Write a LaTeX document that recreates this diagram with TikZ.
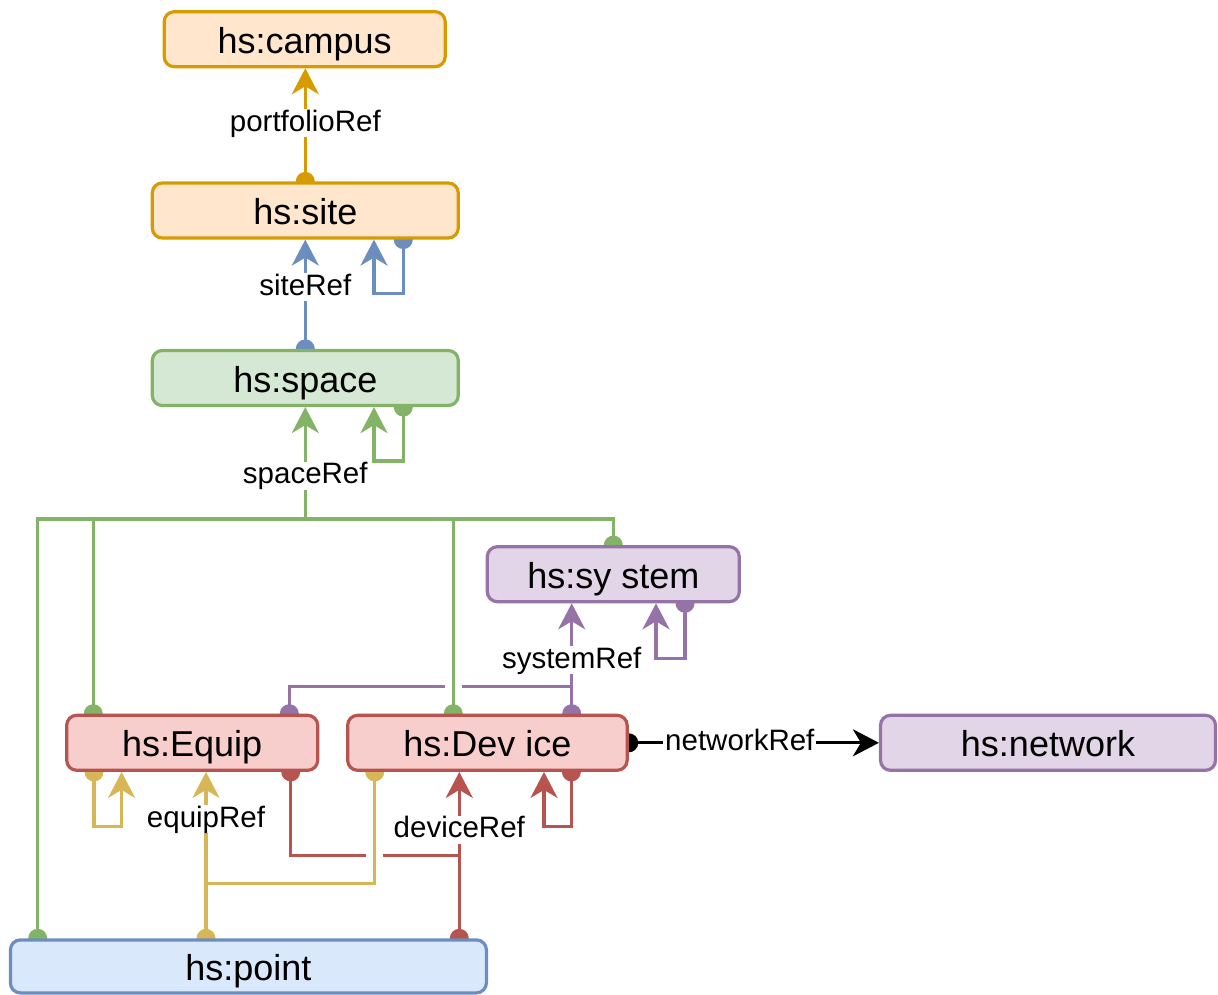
\documentclass[tikz,border=0pt]{standalone}
\usepackage{fontspec}
\setmainfont{Liberation Sans}
\usetikzlibrary{arrows.meta}

\definecolor{orangeS}{HTML}{D79B00}
\definecolor{orangeF}{HTML}{FFE6CC}
\definecolor{blueS}{HTML}{6C8EBF}
\definecolor{blueF}{HTML}{DAE8FC}
\definecolor{greenS}{HTML}{82B366}
\definecolor{greenF}{HTML}{D5E8D4}
\definecolor{purpleS}{HTML}{9673A6}
\definecolor{purpleF}{HTML}{E1D5E7}
\definecolor{redS}{HTML}{B85450}
\definecolor{redF}{HTML}{F8CECC}
\definecolor{yellowS}{HTML}{D6B656}

\pgfdeclarelayer{bg}
\pgfsetlayers{bg,main}

\begin{document}
\begin{tikzpicture}[x=1pt,y=-1pt,
  box/.style={draw, line width=3.2pt, rounded corners=10pt, minimum height=55pt,
    inner sep=0pt, text height=28pt, text depth=0pt, text=black,
    font=\fontsize{36}{40}\selectfont},
  wire/.style={line width=3.3pt},
  conn/.style={wire, -{Stealth[length=26pt 0 0,width=27pt 0 0,inset=8pt]}},
  tdot/.style={circle, fill, inner sep=0pt, minimum size=19pt},
  lbl/.style={fill=white, text=black, inner xsep=2pt, inner ysep=2pt,
    text height=20pt, text depth=4pt, font=\fontsize{29.5}{32}\selectfont}]

\useasboundingbox (0,0) rectangle (1218,995);

% classes
\node[box, draw=orangeS, fill=orangeF, minimum width=281pt] (campus) at (304.7,39.2) {hs:campus};
\node[box, draw=orangeS, fill=orangeF, minimum width=306pt] (site) at (305.3,210.5) {hs:site};
\node[box, draw=greenS, fill=greenF, minimum width=306pt] (space) at (305.3,378) {hs:space};
\node[box, draw=purpleS, fill=purpleF, minimum width=252pt] (system) at (613.3,574.2) {hs:sy stem};
\node[box, draw=redS, fill=redF, minimum width=251pt] (equip) at (192.2,742.8) {hs:Equip};
\node[box, draw=redS, fill=redF, minimum width=279.5pt] (device) at (487.4,742.8) {hs:Dev ice};
\node[box, draw=purpleS, fill=purpleF, minimum width=335pt] (network) at (1048,742.8) {hs:network};
\node[box, draw=blueS, fill=blueF, minimum width=476pt, minimum height=53pt] (point) at (248.4,966.4) {hs:point};

% routing points
\coordinate (bus) at (305.3,519);
\coordinate (gP) at (37.7,519);
\coordinate (gE) at (93.3,519);
\coordinate (gD) at (453.3,519);
\coordinate (gS) at (613.3,519);
\coordinate (pJ) at (571.7,686.7);
\coordinate (pL) at (289.3,686.7);
\coordinate (pG1) at (445,686.7);
\coordinate (pG2) at (461.7,686.7);
\coordinate (yJ) at (206,883.3);
\coordinate (yD) at (374.7,883.3);
\coordinate (rJ) at (459.3,855.7);
\coordinate (rL) at (290.7,855.7);
\coordinate (rG1) at (366,855.7);
\coordinate (rG2) at (383.3,855.7);
\coordinate (siteLr) at (403.3,293.3);
\coordinate (siteLl) at (374,293.3);
\coordinate (spaceLr) at (403.3,461);
\coordinate (spaceLl) at (374,461);
\coordinate (sysLr) at (685,658.3);
\coordinate (sysLl) at (656,658.3);
\coordinate (eqLd) at (94,826.7);
\coordinate (eqLa) at (121.6,826.7);
\coordinate (devLd) at (571.4,826.7);
\coordinate (devLa) at (544,826.7);

\begin{pgfonlayer}{bg}
  % portfolioRef
  \draw[conn, orangeS] (site.north) node[tdot]{} -- node[lbl, pos=.513]{portfolioRef} (campus.south -| site.north);
  % siteRef
  \draw[conn, blueS] (space.north) node[tdot]{} -- node[lbl, pos=.564]{siteRef} (site.south);
  \draw[conn, blueS] (site.south -| siteLr) node[tdot]{} -- (siteLr) -- (siteLl) -- (site.south -| siteLl);
  % spaceRef
  \draw[conn, greenS] (bus) -- node[lbl, pos=.385]{spaceRef} (space.south -| bus);
  \draw[conn, greenS] (space.south -| spaceLr) node[tdot]{} -- (spaceLr) -- (spaceLl) -- (space.south -| spaceLl);
  \draw[wire, greenS] (point.north -| gP) node[tdot]{} -- (gP) -- (bus);
  \draw[wire, greenS] (equip.north -| gE) node[tdot]{} -- (gE);
  \draw[wire, greenS] (device.north -| gD) node[tdot]{} -- (gD);
  \draw[wire, greenS] (system.north -| gS) node[tdot]{} -- (gS) -- (bus);
  % systemRef
  \draw[conn, purpleS] (device.north -| pJ) node[tdot]{} -- node[lbl, pos=.485]{systemRef} (system.south -| pJ);
  \draw[wire, purpleS] (equip.north -| pL) node[tdot]{} -- (pL) -- (pG1);
  \draw[wire, purpleS] (pG2) -- (pJ);
  \draw[conn, purpleS] (system.south -| sysLr) node[tdot]{} -- (sysLr) -- (sysLl) -- (system.south -| sysLl);
  % equipRef
  \draw[conn, yellowS] (point.north -| yJ) node[tdot]{} -- node[lbl, pos=.714]{equipRef} (equip.south -| yJ);
  \draw[wire, yellowS] (device.south -| yD) node[tdot]{} -- (yD) -- (yJ);
  \draw[conn, yellowS] (equip.south -| eqLd) node[tdot]{} -- (eqLd) -- (eqLa) -- (equip.south -| eqLa);
  % deviceRef
  \draw[conn, redS] (point.north -| rJ) node[tdot]{} -- node[lbl, pos=.653]{deviceRef} (device.south -| rJ);
  \draw[wire, redS] (equip.south -| rL) node[tdot]{} -- (rL) -- (rG1);
  \draw[wire, redS] (rG2) -- (rJ);
  \draw[conn, redS] (device.south -| devLd) node[tdot]{} -- (devLd) -- (devLa) -- (device.south -| devLa);
  % networkRef
  \draw[conn, black] (device.east) node[tdot]{} -- node[lbl, pos=.444]{networkRef} (network.west);
\end{pgfonlayer}
\end{tikzpicture}
\end{document}
